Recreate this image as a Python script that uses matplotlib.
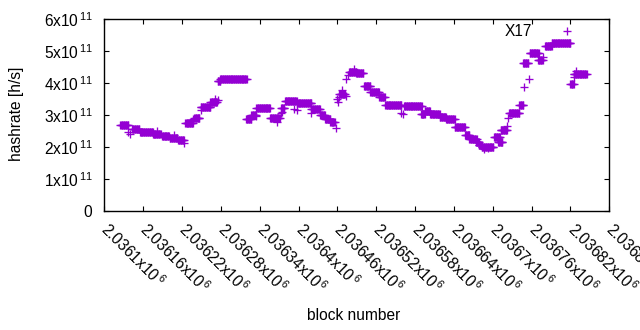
import numpy as np
import matplotlib
matplotlib.use('Agg')
import matplotlib.pyplot as plt

plt.rcParams['font.family'] = ['Liberation Sans', 'DejaVu Sans']
plt.rcParams['mathtext.fontset'] = 'custom'
plt.rcParams['mathtext.rm'] = 'Liberation Sans'
plt.rcParams['mathtext.it'] = 'Liberation Sans:italic'
plt.rcParams['mathtext.bf'] = 'Liberation Sans:bold'

FS = 11.2

# Runs of constant hashrate: first block, last block, hashrate (h/s)
run_start = [2036125, 2036143, 2036155, 2036175, 2036189, 2036201, 2036214, 2036225,
             2036239, 2036249, 2036264, 2036275, 2036279, 2036319, 2036327, 2036335,
             2036356, 2036373, 2036379, 2036397, 2036420, 2036433, 2036441, 2036449,
             2036463, 2036478, 2036489, 2036501, 2036511, 2036525, 2036534, 2036563,
             2036589, 2036595, 2036603, 2036618, 2036628, 2036641, 2036657, 2036664,
             2036674, 2036678, 2036683, 2036702, 2036708, 2036712, 2036725, 2036741,
             2036747, 2036757, 2036770, 2036781, 2036791, 2036820, 2036825]
run_end = [2036137, 2036154, 2036175, 2036187, 2036200, 2036213, 2036223, 2036237,
           2036247, 2036264, 2036274, 2036279, 2036320, 2036327, 2036334, 2036356,
           2036371, 2036378, 2036397, 2036420, 2036433, 2036441, 2036449, 2036456,
           2036472, 2036489, 2036500, 2036511, 2036524, 2036533, 2036559, 2036590,
           2036595, 2036603, 2036618, 2036628, 2036641, 2036657, 2036664, 2036675,
           2036678, 2036683, 2036701, 2036711, 2036715, 2036722, 2036741, 2036747,
           2036755, 2036771, 2036777, 2036791, 2036820, 2036825, 2036845]
run_value = [2.69e11, 2.57e11, 2.46e11, 2.41e11, 2.33e11, 2.29e11, 2.21e11, 2.74e11,
             2.92e11, 3.24e11, 3.42e11, 4.06e11, 4.11e11, 2.87e11, 3.01e11, 3.21e11,
             2.90e11, 3.21e11, 3.44e11, 3.37e11, 3.18e11, 2.99e11, 2.875e11, 2.78e11,
             3.65e11, 4.35e11, 4.30e11, 3.90e11, 3.71e11, 3.55e11, 3.30e11, 3.27e11,
             3.03e11, 3.125e11, 3.03e11, 2.95e11, 2.87e11, 2.62e11, 2.39e11, 2.24e11,
             2.17e11, 2.06e11, 2.01e11, 2.31e11, 2.16e11, 2.53e11, 3.05e11, 3.30e11,
             4.63e11, 4.95e11, 4.72e11, 5.15e11, 5.24e11, 3.97e11, 4.27e11]

# Isolated blocks
single_block = [2036137, 2036140, 2036182, 2036208, 2036223, 2036237, 2036249, 2036271,
                2036276, 2036335, 2036366, 2036373, 2036374, 2036393, 2036397, 2036420,
                2036458, 2036460, 2036461, 2036462, 2036467, 2036474, 2036474, 2036477,
                2036485, 2036559, 2036561, 2036686, 2036692, 2036722, 2036724, 2036749,
                2036756, 2036778, 2036825, 2036829]
single_value = [2.48e11, 2.40e11, 2.51e11, 2.37e11, 2.14e11, 2.875e11, 3.16e11, 3.49e11,
                3.47e11, 2.97e11, 2.79e11, 3.05e11, 3.10e11, 3.20e11, 3.16e11, 3.07e11,
                2.60e11, 3.49e11, 3.42e11, 3.55e11, 3.78e11, 3.60e11, 4.13e11, 4.25e11,
                4.43e11, 3.05e11, 3.03e11, 1.95e11, 1.97e11, 2.66e11, 2.90e11, 3.88e11,
                4.11e11, 4.80e11, 4.18e11, 4.38e11]

xtick_values = [2036100, 2036160, 2036220, 2036280, 2036340, 2036400, 2036460,
                2036520, 2036580, 2036640, 2036700, 2036760, 2036820, 2036880]
xtick_labels = ['2.0361', '2.03616', '2.03622', '2.03628', '2.03634', '2.0364',
                '2.03646', '2.03652', '2.03658', '2.03664', '2.0367', '2.03676',
                '2.03682', '2.03688']
ytick_values = [0, 1e11, 2e11, 3e11, 4e11, 5e11, 6e11]
ytick_mantissa = ['0', '1', '2', '3', '4', '5', '6']

series_label = 'X17'
color = '#9400D3'

xs, ys = [], []
for s, e, v in zip(run_start, run_end, run_value):
    b = np.arange(s, e + 1)
    xs.append(b)
    ys.append(np.full(len(b), v))
xs.append(np.array(single_block))
ys.append(np.array(single_value))
x = np.concatenate(xs)
y = np.concatenate(ys)

fig = plt.figure(figsize=(6.4, 3.3), dpi=100)
ax = fig.add_axes([104.3 / 640, 1 - 211 / 330, (609.3 - 104.3) / 640, (211 - 19) / 330])

ax.plot(x, y, linestyle='none', marker='+', markersize=5.4, markeredgewidth=0.95,
        color=color, label=series_label)

ax.set_xlim(2036100, 2036880)
ax.set_ylim(0, 6e11)

ax.set_xticks(xtick_values)
ax.set_xticklabels([r'$\mathregular{%sx10^{\,6}}$' % t for t in xtick_labels],
                   rotation=-45, ha='left', va='center', rotation_mode='anchor', fontsize=FS)
ax.set_yticks(ytick_values)
ax.set_yticklabels([m if m == '0' else r'$\mathregular{%sx10^{\,11}}$' % m for m in ytick_mantissa],
                   fontsize=FS)

ax.tick_params(direction='in', length=3.5, width=0.8, top=True, right=True, colors='black')
ax.tick_params(axis='y', pad=8.5)
ax.tick_params(axis='x', pad=11)
for sp in ax.spines.values():
    sp.set_linewidth(1.0)
    sp.set_color('black')

ax.set_xlabel('block number', fontsize=FS)
ax.xaxis.set_label_coords(354 / 640, 1 - 308.5 / 330, transform=fig.transFigure)
ax.set_ylabel('hashrate [h/s]', fontsize=FS)
ax.yaxis.set_label_coords(24 / 640, 1 - 114 / 330, transform=fig.transFigure)

leg = ax.legend(loc='center right', bbox_to_anchor=(589.6 / 640, 1 - 32 / 330),
                bbox_transform=fig.transFigure, frameon=False, markerfirst=False,
                handletextpad=0.8, handlelength=2.9, borderpad=0, borderaxespad=0,
                fontsize=FS)

fig.savefig('out.png', dpi=100)
